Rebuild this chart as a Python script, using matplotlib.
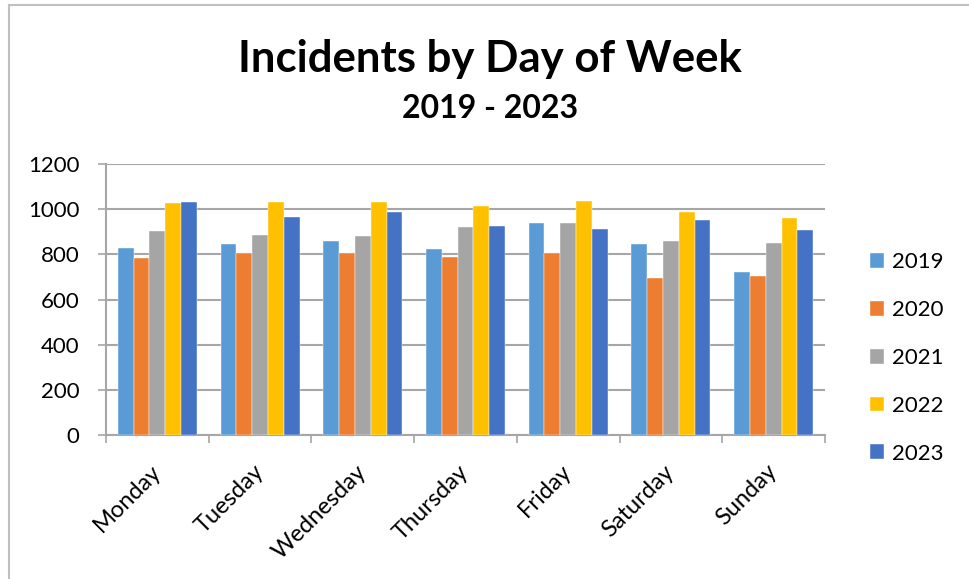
import matplotlib
matplotlib.use("Agg")
import matplotlib.pyplot as plt
from matplotlib.lines import Line2D
import numpy as np

plt.rcParams["font.family"] = ["Lato", "DejaVu Sans"]

days = ["Monday", "Tuesday", "Wednesday", "Thursday", "Friday", "Saturday", "Sunday"]
years = ["2019", "2020", "2021", "2022", "2023"]
y2019 = [829, 847, 860, 825, 940, 845, 723]
y2020 = [782, 804, 807, 789, 804, 693, 705]
y2021 = [905, 884, 881, 919, 937, 857, 848]
y2022 = [1026, 1030, 1033, 1015, 1035, 987, 959]
y2023 = [1030, 967, 986, 925, 913, 952, 909]
colors = ["#5B9BD5", "#ED7D31", "#A5A5A5", "#FFC000", "#4472C4"]

W, H = 969, 579
fig = plt.figure(figsize=(W / 100, H / 100), dpi=100)
ax = fig.add_axes([106 / W, 1 - 435 / H, (825 - 106) / W, (435 - 164) / H])

x = np.arange(len(days))
bw = 0.154
series = [y2019, y2020, y2021, y2022, y2023]
for i, (vals, col, lab) in enumerate(zip(series, colors, years)):
    ax.bar(x + (i - 2) * bw, vals, width=bw, color=col, label=lab, zorder=3,
           edgecolor="white", linewidth=0.3)

grid_c = "#A6A6A6"
ax.set_xlim(-0.5, len(days) - 0.5)
ax.set_ylim(0, 1200)
ax.set_yticks(range(0, 1201, 200))
ax.yaxis.grid(True, color=grid_c, linewidth=1.5, zorder=0)
ax.tick_params(axis="y", length=6, width=1.2, color=grid_c, pad=13, labelsize=16)

# category boundaries get the tick marks, labels sit at the centres
ax.set_xticks(np.arange(-0.5, len(days)), minor=False)
ax.set_xticklabels([])
ax.tick_params(axis="x", which="major", length=6, width=1.2, color=grid_c)
ax.set_xticks(x, minor=True)
ax.set_xticklabels(days, minor=True, rotation=45, ha="right", va="center",
                   rotation_mode="anchor", fontsize=17)
ax.tick_params(axis="x", which="minor", length=0, pad=24)

for s in ["top", "right"]:
    ax.spines[s].set_visible(False)
for s in ["left", "bottom"]:
    ax.spines[s].set_color(grid_c)
    ax.spines[s].set_linewidth(1.5)

fig.text(490 / W, 1 - 59 / H, "Incidents by Day of Week", ha="center", va="center",
         fontsize=31.5, fontweight="bold")
fig.text(490 / W, 1 - 109 / H, "2019 - 2023", ha="center", va="center",
         fontsize=23, fontweight="bold")

ax.legend(loc="center left", bbox_to_anchor=(850 / W, 1 - 358 / H),
          bbox_transform=fig.transFigure, frameon=False, fontsize=16,
          handlelength=0.65, handleheight=0.65, handletextpad=0.35,
          labelspacing=1.25)

# chart border (top and left edges visible)
fig.add_artist(Line2D([9 / W, 9 / W], [0, 1 - 5 / H], color="#BFBFBF", linewidth=1.5))
fig.add_artist(Line2D([9 / W, 1], [1 - 5 / H, 1 - 5 / H], color="#BFBFBF", linewidth=1.5))

fig.savefig("out.png", dpi=100)
